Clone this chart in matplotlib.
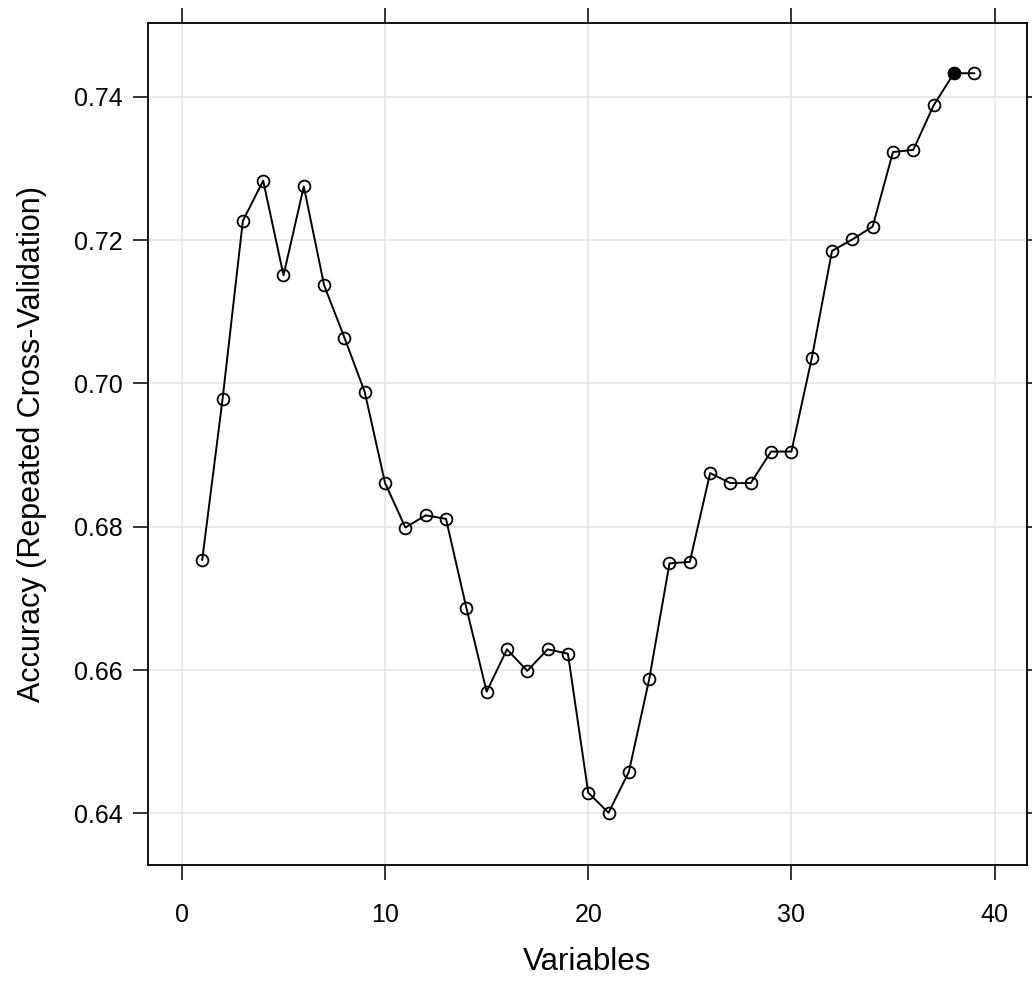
import matplotlib
matplotlib.use("Agg")
import matplotlib.pyplot as plt

# ── data ─────────────────────────────────────────────────────────
variables = list(range(1, 40))
accuracy = [
    0.6754, 0.6978, 0.7227, 0.7283, 0.7151, 0.7275, 0.7137, 0.7064, 0.6988, 0.6861,
    0.6799, 0.6816, 0.6811, 0.6687, 0.6570, 0.6629, 0.6599, 0.6629, 0.6623, 0.6429,
    0.6401, 0.6458, 0.6587, 0.6749, 0.6751, 0.6875, 0.6861, 0.6861, 0.6905, 0.6905,
    0.7035, 0.7185, 0.7201, 0.7219, 0.7323, 0.7326, 0.7388, 0.7433, 0.7433,
]
best_size = 38
x_ticks = [0, 10, 20, 30, 40]
y_ticks = [0.64, 0.66, 0.68, 0.70, 0.72, 0.74]

plt.rcParams["font.family"] = ["Liberation Sans", "DejaVu Sans"]

fig = plt.figure(figsize=(10.32, 9.85), dpi=100)
ax = fig.add_axes([0.1434, 0.1218, 0.8518, 0.8548])

ax.plot(variables, accuracy, color="black", lw=1.4, marker="o", ms=8.5,
        mfc="none", mec="black", mew=1.3, zorder=3)
best_idx = variables.index(best_size)
ax.plot([variables[best_idx]], [accuracy[best_idx]], marker="o", ms=8.5,
        color="black", zorder=4)

ax.set_xlim(-1.67, 41.6)
ax.set_ylim(0.6328, 0.7503)
ax.set_xticks(x_ticks)
ax.set_yticks(y_ticks)
ax.set_yticklabels([f"{v:.2f}" for v in y_ticks])

ax.grid(True, color="#e6e6e6", lw=1.2, zorder=0)
ax.set_axisbelow(True)

ax.tick_params(direction="out", length=10.5, width=1.1, labelsize=18,
               top=True, right=True, labeltop=False, labelright=False, pad=17)
ax.tick_params(axis="y", pad=8)
for s in ax.spines.values():
    s.set_linewidth(1.3)

ax.set_xlabel("Variables", fontsize=22.5, labelpad=14)
ax.set_ylabel("Accuracy (Repeated Cross-Validation)", fontsize=22, labelpad=19)

fig.savefig("out.png", dpi=100)
